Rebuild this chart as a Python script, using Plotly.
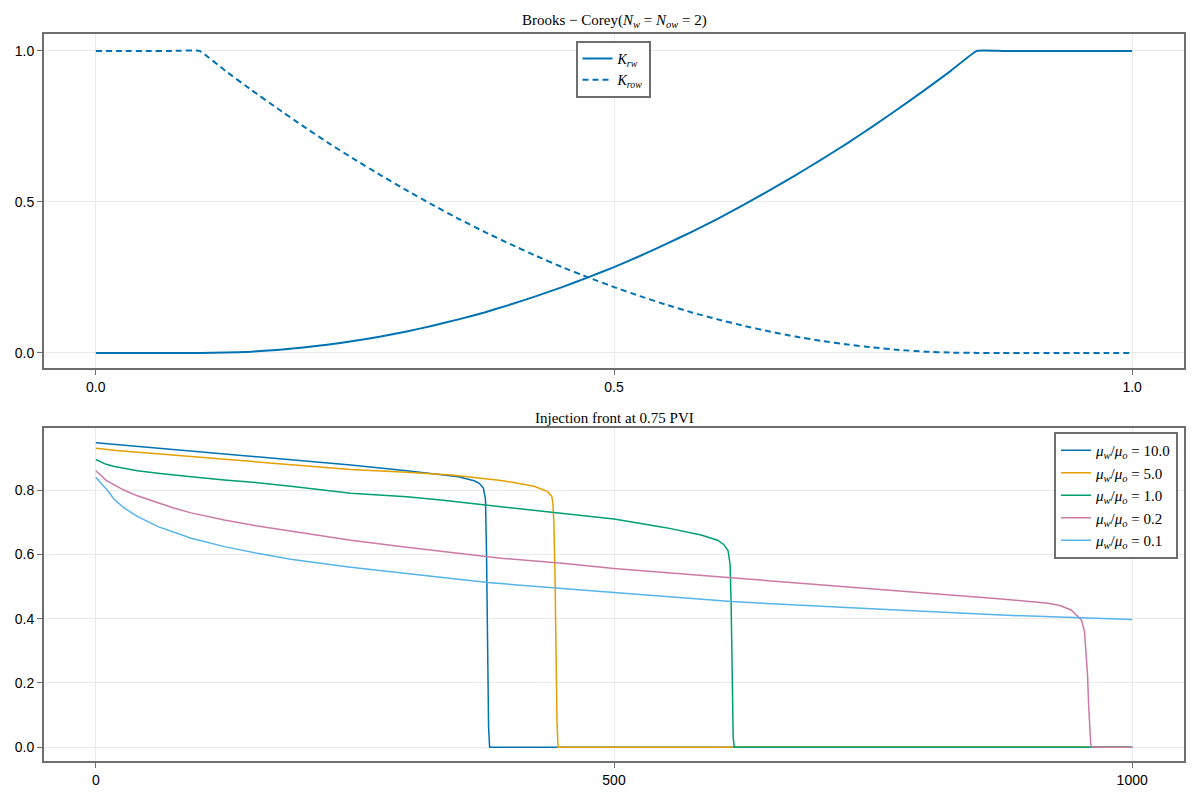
import plotly.graph_objects as go

# relative permeability curves
sw = [0.0, 0.025, 0.05, 0.075, 0.1, 0.125, 0.15, 0.175, 0.2, 0.225, 0.25, 0.275, 0.3, 0.325,
      0.35, 0.375, 0.4, 0.425, 0.45, 0.475, 0.5, 0.525, 0.55, 0.575, 0.6, 0.625, 0.65, 0.675,
      0.7, 0.725, 0.75, 0.775, 0.8, 0.825, 0.85, 0.875, 0.9, 0.925, 0.95, 0.975, 1.0]
krw = [0.0, 0.0, 0.0, 0.0, 0.0, 0.001, 0.004, 0.01, 0.018, 0.028, 0.04, 0.054, 0.071, 0.09,
       0.111, 0.134, 0.16, 0.188, 0.218, 0.25, 0.284, 0.321, 0.36, 0.401, 0.444, 0.49, 0.538, 0.588,
       0.64, 0.694, 0.751, 0.81, 0.871, 0.934, 1.0, 1.0, 1.0, 1.0, 1.0, 1.0, 1.0]
krow = [1.0, 1.0, 1.0, 1.0, 1.0, 0.934, 0.871, 0.81, 0.751, 0.694, 0.64, 0.588, 0.538, 0.49,
        0.444, 0.401, 0.36, 0.321, 0.284, 0.25, 0.218, 0.188, 0.16, 0.134, 0.111, 0.09, 0.071, 0.054,
        0.04, 0.028, 0.018, 0.01, 0.004, 0.001, 0.0, 0.0, 0.0, 0.0, 0.0, 0.0, 0.0]

# saturation profiles at 0.75 PVI (bottom panel), one x/y pair per viscosity ratio
x_10 = [0, 50, 100, 150, 200, 246, 300, 333, 350, 365, 370, 374, 376, 377, 378, 379, 380, 1000]
s_10 = [0.947, 0.933, 0.919, 0.905, 0.891, 0.878, 0.860, 0.849, 0.841, 0.829, 0.821, 0.806,
        0.77, 0.60, 0.30, 0.06, 0.0, 0.0]

x_5 = [0, 20, 50, 100, 150, 200, 246, 300, 343, 391, 423, 436, 440, 441, 442, 443, 444, 445, 446, 1000]
s_5 = [0.930, 0.923, 0.915, 0.902, 0.889, 0.876, 0.864, 0.855, 0.847, 0.830, 0.812, 0.795,
       0.78, 0.76, 0.70, 0.55, 0.30, 0.08, 0.0, 0.0]

x_1 = [0, 5, 10, 18, 27, 40, 60, 75, 92, 124, 156, 188, 220, 246, 300, 333, 391, 450, 500, 550,
       584, 600, 606, 610, 612, 613, 614, 615, 616, 1000]
s_1 = [0.895, 0.887, 0.880, 0.873, 0.867, 0.860, 0.852, 0.846, 0.841, 0.831, 0.823, 0.812,
       0.800, 0.790, 0.779, 0.769, 0.748, 0.728, 0.710, 0.683, 0.660, 0.644, 0.630, 0.612, 0.57,
       0.45, 0.2, 0.03, 0.0, 0.0]

x_02 = [0, 2, 5, 10, 18, 27, 40, 60, 75, 92, 124, 156, 188, 220, 246, 300, 333, 391, 450, 500,
        613, 758, 874, 919, 931, 941, 946, 951, 954, 956, 957, 958, 959, 960, 961, 1000]
s_02 = [0.860, 0.853, 0.845, 0.830, 0.815, 0.800, 0.782, 0.759, 0.744, 0.729, 0.707, 0.688,
        0.672, 0.655, 0.644, 0.622, 0.610, 0.588, 0.572, 0.556, 0.527, 0.491, 0.461, 0.448,
        0.440, 0.427, 0.411, 0.396, 0.36, 0.28, 0.22, 0.13, 0.06, 0.01, 0.0, 0.0]

x_01 = [0, 2, 5, 11, 18, 27, 40, 60, 75, 92, 124, 156, 188, 220, 246, 300, 378, 450, 500, 613,
        758, 874, 1000]
s_01 = [0.840, 0.832, 0.821, 0.800, 0.770, 0.745, 0.718, 0.686, 0.668, 0.650, 0.624, 0.603,
        0.585, 0.570, 0.560, 0.540, 0.512, 0.494, 0.481, 0.453, 0.429, 0.411, 0.397]

ratios = ["10.0", "5.0", "1.0", "0.2", "0.1"]
colors = ["#0072B2", "#E69F00", "#009E73", "#CC79A7", "#56B4E9"]
profiles = [(x_10, s_10), (x_5, s_5), (x_1, s_1), (x_02, s_02), (x_01, s_01)]

serif = "Liberation Serif"
sans = "Liberation Sans"
spine = "#6e6e6e"
grid = "#ebebeb"

# the page body adds an 8px offset, so size the figure to fit and shift everything
W, H, OFF = 1192, 792, 8


def fx(p):
    return (p - OFF) / W


def fy(p):
    return 1 - (p - OFF) / H


fig = go.Figure()

fig.add_trace(go.Scatter(x=sw, y=krw, mode="lines", name="<i>K<sub>rw</sub></i>",
                         line=dict(color=colors[0], width=2, shape="spline", smoothing=0.3),
                         xaxis="x", yaxis="y", legend="legend"))
fig.add_trace(go.Scatter(x=sw, y=krow, mode="lines", name="<i>K<sub>row</sub></i>",
                         line=dict(color=colors[0], width=2, dash="6px,4px", shape="spline", smoothing=0.3),
                         xaxis="x", yaxis="y", legend="legend"))

for r, c, (xs, ys) in zip(ratios, colors, profiles):
    fig.add_trace(go.Scatter(x=xs, y=ys, mode="lines",
                             name=f"<i>μ<sub>w</sub></i>/<i>μ<sub>o</sub></i> = {r}",
                             line=dict(color=c, width=1.5), xaxis="x2", yaxis="y2", legend="legend2"))

axis_style = dict(showgrid=True, gridcolor=grid, gridwidth=1, zeroline=False,
                  showline=True, linecolor=spine, linewidth=2, mirror=True,
                  ticks="outside", ticklen=5, tickcolor=spine, tickwidth=1,
                  tickfont=dict(family=sans, size=14, color="black"))

fig.update_layout(
    width=W, height=H,
    margin=dict(l=0, r=0, t=0, b=0),
    paper_bgcolor="white", plot_bgcolor="white",
    xaxis=dict(domain=[fx(44), fx(1184)], range=[-0.05, 1.05],
               tickvals=[0, 0.5, 1.0], ticktext=["0.0", "0.5", "1.0"], anchor="y", **axis_style),
    yaxis=dict(domain=[fy(368), fy(34)], range=[-0.05, 1.056],
               tickvals=[0, 0.5, 1.0], ticktext=["0.0", "0.5", "1.0"], anchor="x", **axis_style),
    xaxis2=dict(domain=[fx(44), fx(1184)], range=[-50, 1050],
                tickvals=[0, 500, 1000], anchor="y2", **axis_style),
    yaxis2=dict(domain=[fy(761), fy(428)], range=[-0.043, 0.993],
                tickvals=[0, 0.2, 0.4, 0.6, 0.8], ticktext=["0.0", "0.2", "0.4", "0.6", "0.8"],
                anchor="x2", **axis_style),
    legend=dict(x=fx(613), xanchor="center", y=fy(41), yanchor="top",
                bgcolor="white", bordercolor=spine, borderwidth=2, itemwidth=30,
                font=dict(family=serif, size=14, color="black")),
    legend2=dict(x=fx(1178), xanchor="right", y=fy(432), yanchor="top",
                 bgcolor="white", bordercolor=spine, borderwidth=2, itemwidth=30,
                 font=dict(family=serif, size=15, color="black")),
    annotations=[
        dict(text="Brooks − Corey(<i>N<sub>w</sub></i> = <i>N<sub>ow</sub></i> = 2)",
             x=fx(614), y=fy(21), xref="paper", yref="paper", yanchor="middle",
             showarrow=False, font=dict(family=serif, size=15, color="black")),
        dict(text="Injection front at 0.75 PVI",
             x=fx(614), y=fy(418), xref="paper", yref="paper", yanchor="middle",
             showarrow=False, font=dict(family=serif, size=15, color="black")),
    ],
)

fig.write_html("out.html")
